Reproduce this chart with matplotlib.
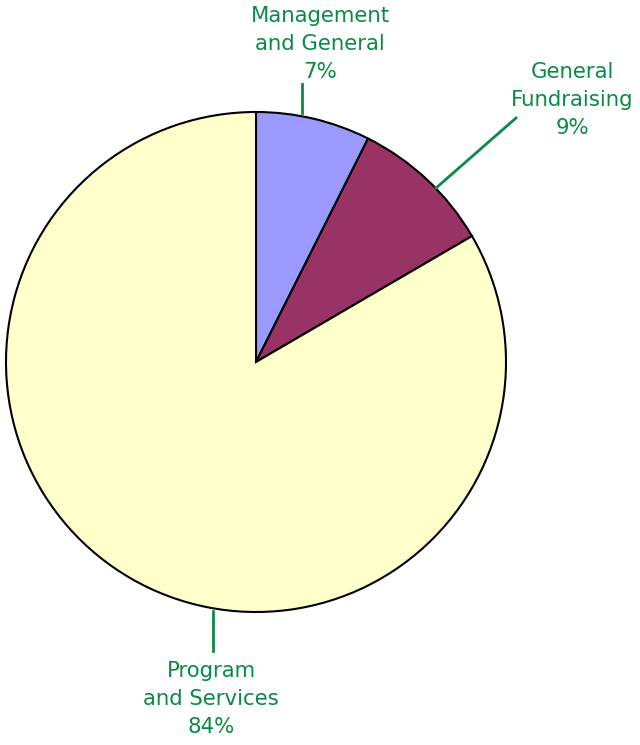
import matplotlib
matplotlib.use('Agg')
import matplotlib.pyplot as plt

# slice data, clockwise from 12 o'clock
categories = ['Management\nand General', 'General\nFundraising', 'Program\nand Services']
shares = [7.4, 9.2, 83.4]
pct_labels = ['7%', '9%', '84%']
colors = ['#9999FF', '#993366', '#FFFFCC']

label_green = '#0A8A44'

W, H = 640, 745
fig = plt.figure(figsize=(W / 100, H / 100), dpi=100)
ax = fig.add_axes([0, 0, 1, 1])

cx, cy, r = 256, H - 362, 250
ax.pie(shares, colors=colors, startangle=90, counterclock=False,
       center=(cx, cy), radius=r, frame=True,
       wedgeprops=dict(edgecolor='black', linewidth=1.5))
ax.set_xlim(0, W)
ax.set_ylim(0, H)
ax.set_aspect('equal')
ax.axis('off')

# label text position (centre of middle line, px) and leader lines (px)
text_pos = [(320, 44), (572, 100), (211, 699)]
leaders = [((302, 84), (302, 113)), ((516, 118), (436, 188)), ((213, 611), (213, 651))]

for cat, pct, (tx, ty), (p0, p1) in zip(categories, pct_labels, text_pos, leaders):
    ax.text(tx, H - ty, cat + '\n' + pct, ha='center', va='center', color=label_green,
            fontsize=15.3, linespacing=1.52, family='DejaVu Sans')
    ax.plot([p0[0], p1[0]], [H - p0[1], H - p1[1]], color=label_green, lw=2)

fig.savefig('out.png', dpi=100)
